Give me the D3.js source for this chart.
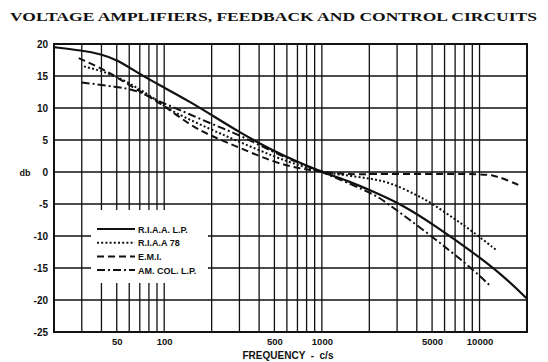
<!DOCTYPE html>
<html>
<head>
<meta charset="utf-8">
<script src="https://cdn.jsdelivr.net/npm/d3@7"></script>
<style>
  body { margin: 0; background: #fff; }
  svg { display: block; }
  text { fill: #111; }
</style>
</head>
<body>
<div id="chart"></div>
<script>
// playback curves, [frequency c/s, db]
var riaaLp = [[20,19.5],[30,19.0],[40,18.4],[50,17.6],[73,15.0],[100,13.2],[150,10.8],[200,8.9],[300,6.2],[500,3.2],[700,1.6],[1000,0],[1500,-1.5],[2000,-2.8],[3300,-5.2],[5300,-8.5],[8700,-12.2],[14000,-16.1],[20000,-19.8]];
var riaa78 = [[31,16.5],[40,15.8],[50,14.9],[70,13.0],[97,10.6],[113,9.4],[200,6.6],[300,4.7],[500,2.4],[700,1.1],[1000,0],[1400,-0.5],[2000,-1.0],[2700,-1.6],[4000,-3.6],[5000,-4.9],[7100,-7.5],[8700,-9.0],[12800,-12.2]];
var emi = [[28.7,17.8],[40,16.2],[50,14.8],[70,12.6],[97,10.6],[146,7.3],[200,5.6],[300,3.8],[500,1.5],[700,0.6],[1000,0],[1500,-0.4],[2000,-0.3],[5000,-0.3],[10500,-0.3],[12500,-0.6],[14100,-1.0],[17600,-2.0]];
var amCol = [[30,14.0],[50,13.3],[67,12.8],[97,10.8],[123,9.8],[200,7.5],[300,5.8],[500,3.0],[700,1.5],[1000,0],[1500,-1.8],[2170,-3.6],[2450,-4.4],[4840,-9.8],[8700,-14.8],[11600,-17.7]];

var seriesNames = ["R.I.A.A. L.P.", "R.I.A.A 78", "E.M.I.", "AM. COL. L.P."];
var freqGrid = [30,40,50,60,70,80,90,100,200,300,400,500,600,700,800,900,1000,2000,3000,4000,5000,6000,7000,8000,9000,10000];
var freqLabels = [50,100,500,1000,5000,10000];
var dbTicks = [20,15,10,5,0,-5,-10,-15,-20,-25];

var svgWidth = 548, svgHeight = 362;
var margin = { top: 44, right: 21, bottom: 30, left: 54 };
var width = svgWidth - margin.left - margin.right;
var height = svgHeight - margin.top - margin.bottom;

var svg = d3.select("#chart").append("svg")
    .attr("width", svgWidth)
    .attr("height", svgHeight);

svg.append("text")
    .attr("x", 10).attr("y", 21)
    .attr("textLength", 527)
    .attr("lengthAdjust", "spacingAndGlyphs")
    .style("font", "bold 13.5px 'Liberation Serif', serif")
    .text("VOLTAGE AMPLIFIERS, FEEDBACK AND CONTROL CIRCUITS");

var g = svg.append("g")
    .attr("transform", "translate(" + margin.left + "," + margin.top + ")");

var x = d3.scaleLog().domain([20, 20000]).range([0, width]);
var y = d3.scaleLinear().domain([-25, 20]).range([height, 0]);

// grid
g.selectAll(".vgrid").data(freqGrid).enter().append("line")
    .attr("x1", d => x(d)).attr("x2", d => x(d))
    .attr("y1", 0).attr("y2", height)
    .attr("stroke", "#111").attr("stroke-width", 1.3);

g.selectAll(".hgrid").data(dbTicks).enter().append("line")
    .attr("x1", 0).attr("x2", width)
    .attr("y1", d => y(d)).attr("y2", d => y(d))
    .attr("stroke", "#111").attr("stroke-width", 1.4);

// blank area behind the key
g.append("rect")
    .attr("x", 37).attr("y", 166)
    .attr("width", 117).attr("height", 73)
    .attr("fill", "#fff");

g.append("rect")
    .attr("width", width).attr("height", height)
    .attr("fill", "none").attr("stroke", "#111").attr("stroke-width", 2);

// axes labels
var yAxis = g.append("g")
    .call(d3.axisLeft(y).tickValues(dbTicks).tickSize(0).tickPadding(6).tickFormat(d => String(d)));
yAxis.select(".domain").remove();
yAxis.selectAll("text").style("font", "bold 10px 'Liberation Sans', sans-serif");

var xAxis = g.append("g")
    .attr("transform", "translate(0," + height + ")")
    .call(d3.axisBottom(x).tickValues(freqLabels).tickSize(0).tickPadding(6).tickFormat(d3.format("d")));
xAxis.select(".domain").remove();
xAxis.selectAll("text").style("font", "bold 9.5px 'Liberation Sans', sans-serif");

svg.append("text")
    .attr("x", 25).attr("y", 176)
    .attr("text-anchor", "middle")
    .style("font", "bold 9px 'Liberation Sans', sans-serif")
    .text("db");

svg.append("text")
    .attr("x", 288).attr("y", 359)
    .attr("text-anchor", "middle")
    .style("font", "bold 10px 'Liberation Sans', sans-serif")
    .attr("xml:space", "preserve")
    .text("FREQUENCY  -  c/s");

// curves
var line = d3.line()
    .x(d => x(d[0]))
    .y(d => y(d[1]))
    .curve(d3.curveBasis);

var styles = [
    { data: riaaLp, dash: null, w: 2.2 },
    { data: riaa78, dash: "2,2.2", w: 2 },
    { data: emi, dash: "7,4", w: 2 },
    { data: amCol, dash: "8,3,2,3", w: 2 }
];

styles.forEach(function(s) {
    g.append("path")
        .datum(s.data)
        .attr("fill", "none")
        .attr("stroke", "#111")
        .attr("stroke-width", s.w)
        .attr("stroke-dasharray", s.dash)
        .attr("d", line);
});

// key
var key = g.selectAll(".key").data(styles).enter().append("g")
    .attr("transform", (d, i) => "translate(43," + (185 + i * 13.7) + ")");
key.append("line")
    .attr("x1", 0).attr("x2", 38)
    .attr("stroke", "#111")
    .attr("stroke-width", d => d.w)
    .attr("stroke-dasharray", d => d.dash);
key.append("text")
    .attr("x", 41).attr("y", 3.5)
    .style("font", "bold 9px 'Liberation Sans', sans-serif")
    .text((d, i) => seriesNames[i]);
</script>
</body>
</html>
